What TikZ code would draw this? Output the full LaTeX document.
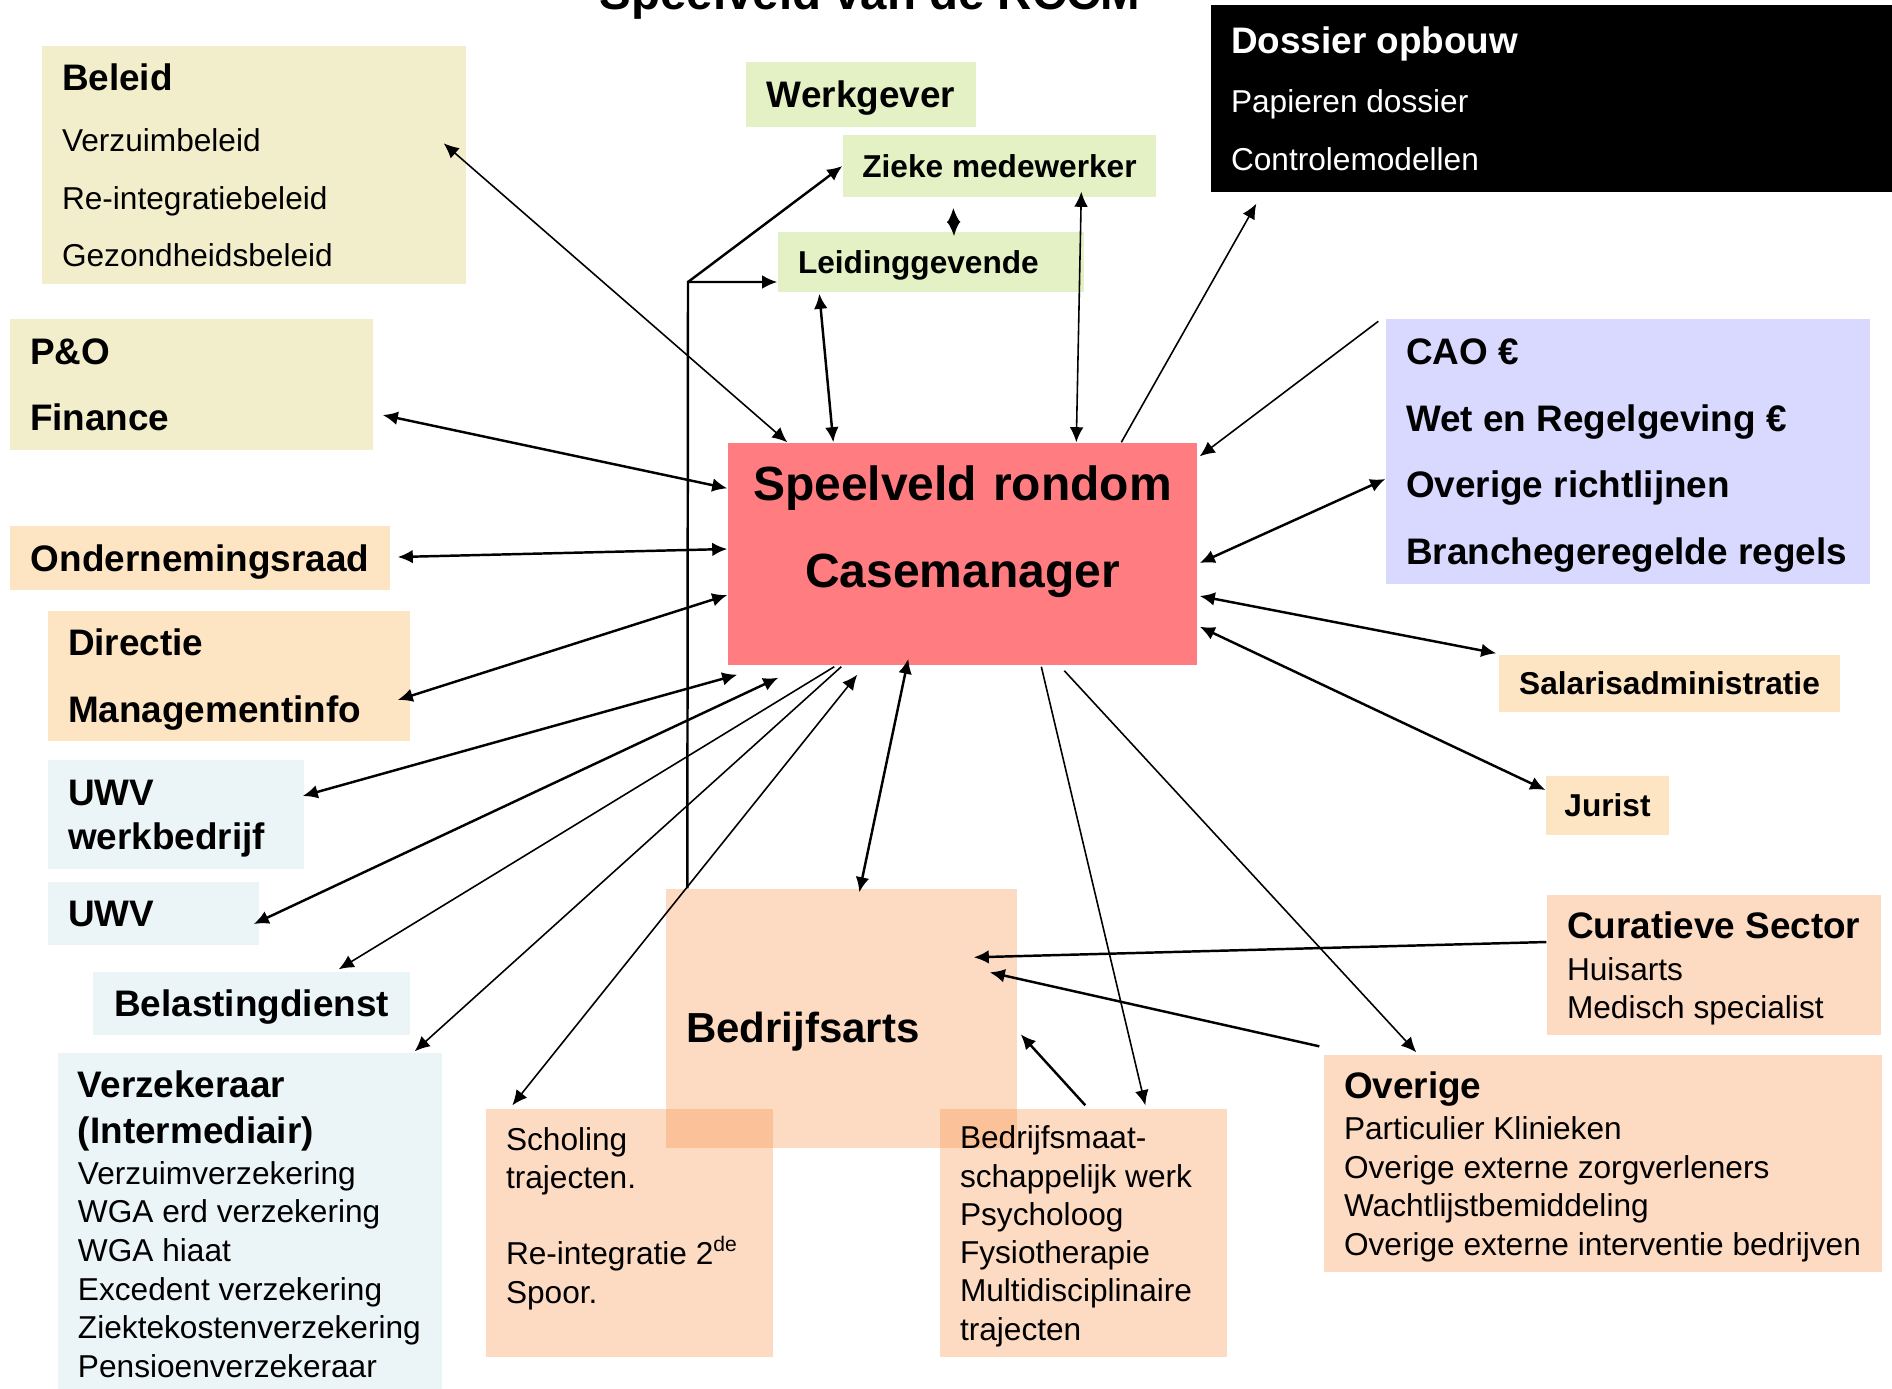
\documentclass[tikz,border=0pt]{standalone}
\usepackage{fontspec}
\setmainfont{Liberation Sans}
\usepackage{xcolor}
\usepackage{tikz}
\usetikzlibrary{calc}
\usetikzlibrary{arrows.meta}
\tikzset{>={Latex[length=4.3pt,width=3.9pt]}}
\definecolor{cBeige}{RGB}{242,238,204}
\definecolor{cGroen}{RGB}{228,241,196}
\definecolor{cLila}{RGB}{217,217,255}
\definecolor{cRood}{RGB}{255,124,128}
\definecolor{cPerzik}{RGB}{253,229,195}
\definecolor{cBlauw}{RGB}{235,244,247}
\definecolor{cZalm}{RGB}{248,150,80}
\newcommand{\kop}[1]{{\fontsize{10.5}{12}\selectfont\bfseries #1}}
\newcommand{\nodiep}{\par\kern-\prevdepth}
\tikzset{
	blok/.style={inner xsep=0.2cm,inner ysep=0pt,align=flush left,font=\fontsize{9}{11}\selectfont},
	etiket/.style={inner sep=0pt,align=center,text depth=0pt},
	zalm/.style={fill=cZalm,fill opacity=0.35,text opacity=1},
	dik/.style={line width=0.7pt},
	dun/.style={line width=0.45pt},
}

\begin{document}
\begin{tikzpicture}
	\useasboundingbox (0,0) rectangle (18.92,-13.88);
	\node[font=\fontsize{13.5}{16}\selectfont\bfseries,anchor=base] (titel) at (8.70,-0.09) {Speelveld van de RCCM};
	\node[blok,fill=cBeige,text width=3.84cm,minimum height=2.38cm,font=\fontsize{9}{16.3}\selectfont] (beleid) at (2.54,-1.65) {\kop{Beleid}\\[1.2pt]Verzuimbeleid\\Re-integratiebeleid\\Gezondheidsbeleid\nodiep};
	\node[blok,fill=cBeige,text width=3.23cm,minimum height=1.31cm,font=\fontsize{10.5}{18.8}\selectfont\bfseries] (peo) at (1.915,-3.845) {P\&O\\Finance\nodiep};
	\node[etiket,fill=cGroen,minimum width=2.30cm,minimum height=0.65cm,font=\fontsize{10.5}{12}\selectfont\bfseries] (werkgever) at (8.61,-0.945) {Werkgever};
	\node[etiket,fill=cGroen,minimum width=3.13cm,minimum height=0.62cm,font=\fontsize{9}{11}\selectfont\bfseries] (zieke) at (9.995,-1.66) {Zieke medewerker};
	\node[blok,fill=cGroen,text width=2.66cm,minimum height=0.60cm,font=\fontsize{9}{11}\selectfont\bfseries] (leiding) at (9.31,-2.62) {Leidinggevende\nodiep};
	\node[blok,fill=black,text=white,text width=6.41cm,minimum height=1.87cm,font=\fontsize{9}{16.3}\selectfont] (dossier) at (15.515,-0.985) {\kop{Dossier opbouw}\\[0.6pt]Papieren dossier\\Controlemodellen\nodiep};
	\node[blok,fill=cLila,text width=4.44cm,minimum height=2.65cm,font=\fontsize{10.5}{19}\selectfont\bfseries] (cao) at (16.28,-4.515) {CAO~€\\Wet~en~Regelgeving~€\\Overige~richtlijnen\\Branchegeregelde~regels\nodiep};
	\node[blok,fill=cRood,align=center,text width=4.29cm,text height=0.57cm,text depth=1.65cm,font=\fontsize{13.66}{24.75}\selectfont\bfseries] (casemanager) at (9.625,-5.54) {Speelveld~rondom\\Casemanager};
	\node[etiket,fill=cPerzik,minimum width=3.80cm,minimum height=0.64cm,font=\fontsize{10.5}{12}\selectfont\bfseries] (ondraad) at (2.00,-5.58) {Ondernemingsraad};
	\node[blok,fill=cPerzik,text width=3.22cm,minimum height=1.30cm,font=\fontsize{10.5}{19}\selectfont\bfseries] (directie) at (2.29,-6.76) {Directie\\Managementinfo\nodiep};
	\node[blok,fill=cBlauw,text width=2.16cm,minimum height=1.09cm,font=\fontsize{10.5}{12.5}\selectfont\bfseries] (uwvwb) at (1.76,-8.145) {UWV\\werkbedrijf\nodiep};
	\node[blok,fill=cBlauw,text width=1.71cm,minimum height=0.63cm,font=\fontsize{10.5}{12}\selectfont\bfseries] (uwv) at (1.535,-9.135) {UWV\nodiep};
	\node[etiket,fill=cBlauw,minimum width=3.17cm,minimum height=0.63cm,font=\fontsize{10.5}{12}\selectfont\bfseries] (belasting) at (2.515,-10.035) {Belastingdienst};
	\node[blok,fill=cBlauw,text width=3.44cm,minimum height=3.42cm] (verzekeraar) at (2.50,-12.24) {\kop{Verzekeraar}\\[2.1pt]\kop{(Intermediair)}\\[0.7pt]Verzuimverzekering\\WGA~erd~verzekering\\WGA~hiaat\\Excedent~verzekering\\Ziektekostenverzekering\\Pensioenverzekeraar\nodiep};
	\node[blok,zalm,text width=3.11cm,text height=1.53cm,text depth=1.06cm,font=\fontsize{11.95}{14}\selectfont\bfseries] (bedrijfsarts) at (8.415,-10.185) {Bedrijfsarts};
	\node[blok,zalm,text width=2.47cm,text height=0.41cm,text depth=2.07cm,font=\fontsize{9}{10.9}\selectfont] (scholing) at (6.295,-12.33) {Scholing\\trajecten.\\[10.9pt]Re-integratie~2\textsuperscript{de}\\Spoor.};
	\node[blok,zalm,text width=2.47cm,minimum height=2.48cm,font=\fontsize{9}{10.9}\selectfont] (bmw) at (10.835,-12.33) {Bedrijfsmaat-\\schappelijk~werk\\Psycholoog\\Fysiotherapie\\Multidisciplinaire\\trajecten\nodiep};
	\node[blok,zalm,text width=2.94cm,minimum height=1.40cm,font=\fontsize{9}{10.6}\selectfont] (curatief) at (17.14,-9.65) {\kop{Curatieve~Sector}\\[1.4pt]Huisarts\\Medisch~specialist\nodiep};
	\node[blok,zalm,text width=5.18cm,minimum height=2.17cm] (overige) at (16.03,-11.635) {\kop{Overige}\\[0.7pt]Particulier~Klinieken\\Overige~externe~zorgverleners\\Wachtlijstbemiddeling\\Overige~externe~interventie~bedrijven\nodiep};
	\node[etiket,fill=cPerzik,minimum width=3.41cm,minimum height=0.57cm,font=\fontsize{9}{11}\selectfont\bfseries] (salaris) at (16.695,-6.835) {Salarisadministratie};
	\node[etiket,fill=cPerzik,minimum width=1.23cm,minimum height=0.59cm,font=\fontsize{9}{11}\selectfont\bfseries] (jurist) at (16.075,-8.055) {Jurist};
	\coordinate (split) at (6.88,-2.82);
	\draw[->,dik] ([shift={(0.22,0)}]bedrijfsarts.north west) -- (split) -- (split -| leiding.west);
	\draw[->,dik] (split) -- (zieke.west);
	\draw[<->,dik] ([shift={(1.11,-0.10)}]zieke.south west) -- ([shift={(0.23,-0.05)}]leiding.north);
	\draw[<->,dun] ([shift={(-0.23,-0.98)}]beleid.north east) -- ([shift={(0.60,0)}]casemanager.north west);
	\draw[<->,dik] ([shift={(0.09,-0.305)}]peo.east) -- ([shift={(0,-0.46)}]casemanager.north west);
	\draw[<->,dik] ([shift={(0.07,0.01)}]ondraad.east) -- ([shift={(0,0.05)}]casemanager.west);
	\draw[<->,dik] ([shift={(-0.13,-0.24)}]directie.east) -- ([shift={(0,-0.41)}]casemanager.west);
	\draw[<->,dik] ([shift={(-0.02,0.185)}]uwvwb.east) -- ([shift={(0.10,-0.09)}]casemanager.south west);
	\draw[<->,dik] ([shift={(-0.06,-0.105)}]uwv.east) -- ([shift={(0.51,-0.12)}]casemanager.south west);
	\draw[->,dun] ([shift={(1.07,-0.01)}]casemanager.south west) -- ([shift={(-0.72,0.02)}]belasting.north east);
	\draw[->,dun] ([shift={(1.14,-0.01)}]casemanager.south west) -- ([shift={(-0.28,0.01)}]verzekeraar.north east);
	\draw[<->,dun] ([shift={(0.27,0.03)}]scholing.north west) -- ([shift={(1.30,-0.09)}]casemanager.south west);
	\draw[<->,dik] ([shift={(1.94,-0.04)}]bedrijfsarts.north west) -- ([shift={(1.81,0.07)}]casemanager.south west);
	\draw[->,dun] ([shift={(3.14,-0.01)}]casemanager.south west) -- ([shift={(2.06,0.03)}]bmw.north west);
	\draw[->,dun] ([shift={(3.37,-0.05)}]casemanager.south west) -- ([shift={(0.93,0.02)}]overige.north west);
	\draw[->,dik] ([shift={(1.46,0.03)}]bmw.north west) -- ([shift={(0.03,-1.46)}]bedrijfsarts.north east);
	\draw[->,dik] ([shift={(0,0.23)}]curatief.west) -- ([shift={(-0.44,-0.69)}]bedrijfsarts.north east);
	\draw[->,dik] ([shift={(-0.04,0.08)}]overige.north west) -- ([shift={(-0.28,-0.84)}]bedrijfsarts.north east);
	\draw[<->,dik] ([shift={(0,0.155)}]jurist.west) -- ([shift={(0.02,0.39)}]casemanager.south east);
	\draw[<->,dik] ([shift={(-0.02,0.01)}]salaris.north west) -- ([shift={(0.02,-0.42)}]casemanager.east);
	\draw[->,dun] ([shift={(-0.07,-0.03)}]cao.north west) -- ([shift={(0.02,-0.14)}]casemanager.north east);
	\draw[<->,dik] ([shift={(0,-0.275)}]cao.west) -- ([shift={(0.02,-0.09)}]casemanager.east);
	\draw[->,dun] ([shift={(3.94,0)}]casemanager.north west) -- ([shift={(0.46,-0.11)}]dossier.south west);
	\draw[<->,dun] ([shift={(2.39,0.06)}]zieke.south west) -- ([shift={(3.49,0)}]casemanager.north west);
	\draw[<->,dik] ([shift={(0.42,-0.01)}]leiding.south west) -- ([shift={(1.06,0)}]casemanager.north west);
\end{tikzpicture}
\end{document}
